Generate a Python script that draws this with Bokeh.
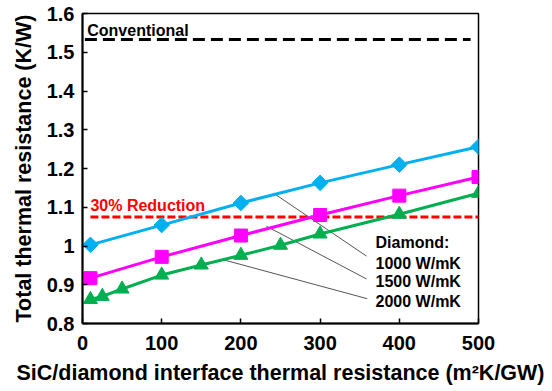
from bokeh.plotting import figure
from bokeh.models import FixedTicker, Range1d
from bokeh.core.properties import value
from bokeh.embed import file_html
from bokeh.resources import INLINE
import math

# ---- data ----
x_1000 = [10, 100, 200, 300, 400, 500]
y_1000 = [1.003, 1.054, 1.111, 1.163, 1.210, 1.256]
x_1500 = [10, 100, 200, 300, 400, 500]
y_1500 = [0.917, 0.972, 1.027, 1.080, 1.130, 1.178]
x_2000 = [10, 25, 50, 100, 150, 200, 250, 300, 400, 500]
y_2000 = [0.862, 0.870, 0.889, 0.925, 0.951, 0.976, 1.002, 1.031, 1.082, 1.136]
conventional_y = 1.533
conventional_x = [3, 490]
reduction_y = 1.075
reduction_x = [10, 500]
x_ticks = [0, 100, 200, 300, 400, 500]
y_ticks = [0.8, 0.9, 1.0, 1.1, 1.2, 1.3, 1.4, 1.5, 1.6]
y_tick_labels = ["0.8", "0.9", "1", "1.1", "1.2", "1.3", "1.4", "1.5", "1.6"]
legend_title = "Diamond:"
legend_labels = ["1000 W/mK", "1500 W/mK", "2000 W/mK"]
legend_label_y = [0.956, 0.908, 0.857]
legend_title_y = 1.009
legend_x = 370
leader_start_x = [241.4, 232.3, 175.1]
leader_start_y = [1.136, 1.051, 0.966]
leader_end_x = [358.6, 358.6, 359.5]
leader_end_y = [0.974, 0.915, 0.864]

FONT = "Liberation Sans"

p = figure(width=548, height=387, output_backend="svg", toolbar_location=None,
           x_range=Range1d(0, 500), y_range=Range1d(0.8, 1.6),
           min_border_left=82, min_border_right=70, min_border_top=13, min_border_bottom=58)
p.xgrid.visible = False
p.ygrid.visible = False
p.outline_line_color = "black"
p.outline_line_width = 1.5
p.background_fill_color = "white"
p.border_fill_color = "white"

for ax in (p.xaxis[0], p.yaxis[0]):
    ax.axis_line_width = 2
    ax.axis_line_color = "black"
    ax.major_tick_in = 5
    ax.major_tick_out = 0
    ax.major_tick_line_width = 1.5
    ax.minor_tick_line_color = None
    ax.major_label_text_font = FONT
    ax.major_label_text_font_style = "bold"
    ax.major_label_text_font_size = "20px"
    ax.major_label_text_color = "black"
    ax.axis_label_text_font = FONT
    ax.axis_label_text_font_style = "bold"
    ax.axis_label_text_font_size = "21.5px"
    ax.axis_label_text_color = "black"

p.xaxis[0].ticker = FixedTicker(ticks=x_ticks)
p.yaxis[0].ticker = FixedTicker(ticks=y_ticks)
p.yaxis[0].major_label_overrides = {t: l for t, l in zip(y_ticks, y_tick_labels)}
p.xaxis[0].major_label_standoff = 12
p.yaxis[0].major_label_standoff = 8
p.xaxis[0].axis_label = "SiC/diamond interface thermal resistance (m\u00b2K/GW)"
p.yaxis[0].axis_label = "Total thermal resistance (K/W)"
p.xaxis[0].axis_label_standoff = 8
p.yaxis[0].axis_label_standoff = 8

# reference lines
p.line(conventional_x, [conventional_y] * 2, line_color="black", line_width=3, line_dash="12 6")
p.line(reduction_x, [reduction_y] * 2, line_color="#ff0000", line_width=3, line_dash="8 3")

# leader lines
p.segment(x0=leader_start_x, y0=leader_start_y, x1=leader_end_x, y1=leader_end_y,
          line_color="#555555", line_width=1)

# series
BLUE = "#00b0f0"
MAG = "#ff00ff"
GREEN = "#00b050"
p.line(x_1000, y_1000, line_color=BLUE, line_width=3)
p.scatter(x_1000, y_1000, marker="square", angle=math.pi / 4, size=11,
          fill_color=BLUE, line_color=BLUE)
p.line(x_1500, y_1500, line_color=MAG, line_width=3)
p.scatter(x_1500, y_1500, marker="square", size=13, fill_color=MAG, line_color=MAG)
p.line(x_2000, y_2000, line_color=GREEN, line_width=3)
p.scatter(x_2000, y_2000, marker="triangle", size=14, fill_color=GREEN, line_color=GREEN)

# texts
p.text(x=[6], y=[1.556], text=["Conventional"], text_font=value(FONT), text_font_style="bold",
       text_font_size="16px", text_color="black", text_baseline="middle", text_align="left")
p.text(x=[10], y=[1.104], text=["30% Reduction"], text_font=value(FONT), text_font_style="bold",
       text_font_size="16px", text_color="#ff0000", text_baseline="middle", text_align="left")
p.text(x=[legend_x], y=[legend_title_y], text=[legend_title], text_font=value(FONT),
       text_font_style="bold", text_font_size="16px", text_color="black",
       text_baseline="middle", text_align="left")
p.text(x=[legend_x] * 3, y=legend_label_y, text=legend_labels, text_font=value(FONT),
       text_font_style="bold", text_font_size="16px", text_color="black",
       text_baseline="middle", text_align="left")

open("out.html", "w").write(file_html(p, INLINE))
